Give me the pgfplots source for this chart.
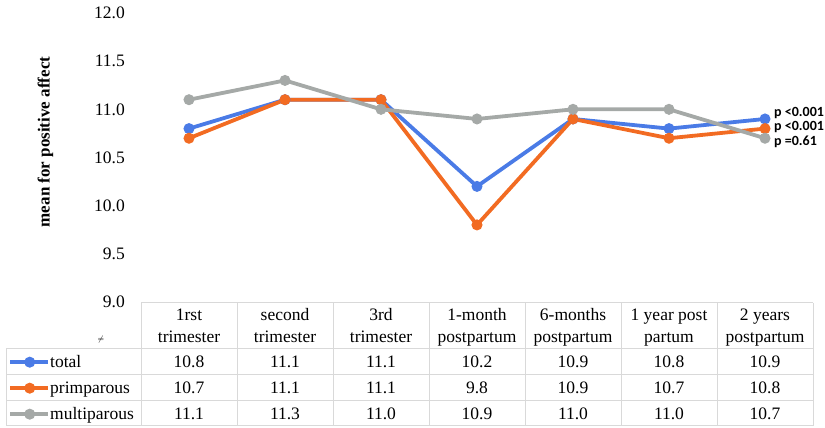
\documentclass[border=0pt]{standalone}
\usepackage{pgfplots}
\pgfplotsset{compat=1.18}
\usepackage{fontspec}
\setmainfont{Liberation Serif}
\newfontfamily\pfont{Carlito}
\definecolor{cblue}{HTML}{4A7BE6}
\definecolor{corange}{HTML}{F26B22}
\definecolor{cgray}{HTML}{A5A9A7}
\definecolor{tgrid}{HTML}{D9D9D9}
\newcommand\tf{\fontsize{17.5}{21}\selectfont}
\begin{document}
\begin{tikzpicture}
\path[use as bounding box] (0,0) rectangle (825pt,428pt);
\begin{axis}[at={(141pt,126pt)}, anchor=south west, scale only axis,
  width=672pt, height=289pt,
  xmin=-0.5, xmax=6.5, ymin=9, ymax=12,
  xtick=\empty, ytick={9,9.5,10,10.5,11,11.5,12},
  axis line style={draw=none}, major tick style={draw=none},
  yticklabel style={font=\tf, inner sep=0pt, xshift=-16pt,
    /pgf/number format/.cd, fixed, fixed zerofill, precision=1, assume math mode=true},
  clip=false,
  every axis plot/.append style={line width=3.8pt, mark=*, mark size=5pt, mark options={solid, line width=1pt}},
  legend style={at={(axis description cs:-0.1949,-0.1626)}, anchor=north west,
    draw=none, fill=none, inner sep=0pt, column sep=2pt, row sep=0pt,
    nodes={inner sep=0pt, text height=18pt, text depth=8pt, font=\tf}},
  legend cell align=left,
  legend image code/.code={\path[draw=none, fill=none, use as bounding box] (0pt,-4pt) rectangle (38pt,4pt);
    \draw[#1, mark=none] (0pt,0pt) -- (38pt,0pt);
    \draw[#1, only marks] plot coordinates {(19.5pt,0pt)};},
]
\addplot[color=cblue] coordinates {(0,10.8) (1,11.1) (2,11.1) (3,10.2) (4,10.9) (5,10.8) (6,10.9)};
\addlegendentry{total}
\addplot[color=corange] coordinates {(0,10.7) (1,11.1) (2,11.1) (3,9.8) (4,10.9) (5,10.7) (6,10.8)};
\addlegendentry{primparous}
\addplot[color=cgray] coordinates {(0,11.1) (1,11.3) (2,11.0) (3,10.9) (4,11.0) (5,11.0) (6,10.7)};
\addlegendentry{multiparous}
\end{axis}
% table grid
\draw[tgrid, line width=1pt] (141pt,125pt) -- (813pt,125pt);
\foreach \y in {79,53,27,2} \draw[tgrid, line width=1pt] (6pt,\y pt) -- (813pt,\y pt);
\draw[tgrid, line width=1pt] (6pt,79pt) -- (6pt,2pt);
\foreach \x in {141,237,333,429,525,621,717,813} \draw[tgrid, line width=1pt] (\x pt,125pt) -- (\x pt,2pt);
% headers
\foreach \a/\b [count=\i from 0] in {1rst/trimester, second/trimester, 3rd/trimester, 1-month/postpartum, 6-months/postpartum, 1 year post/partum, 2 years/postpartum} {
  \node[font=\tf, anchor=base, inner sep=0pt] at ({(189+96*\i)*1pt},107.5pt) {\a};
  \node[font=\tf, anchor=base, inner sep=0pt] at ({(189+96*\i)*1pt},85.5pt) {\b};
}
\foreach \v [count=\i from 0] in {10.8,11.1,11.1,10.2,10.9,10.8,10.9}
  \node[font=\tf, anchor=base, inner sep=0pt] at ({(189+96*\i)*1pt},60pt) {\v};
\foreach \v [count=\i from 0] in {10.7,11.1,11.1,9.8,10.9,10.7,10.8}
  \node[font=\tf, anchor=base, inner sep=0pt] at ({(189+96*\i)*1pt},34pt) {\v};
\foreach \v [count=\i from 0] in {11.1,11.3,11.0,10.9,11.0,11.0,10.7}
  \node[font=\tf, anchor=base, inner sep=0pt] at ({(189+96*\i)*1pt},8.5pt) {\v};
\node[font=\fontsize{8}{8}\selectfont, inner sep=0pt] at (101pt,88pt) {$\neq$};
% p-values
\node[font=\pfont\bfseries\fontsize{14}{14}\selectfont, anchor=base west, inner sep=0pt] at (774pt,311.5pt) {p <0.001};
\node[font=\pfont\bfseries\fontsize{14}{14}\selectfont, anchor=base west, inner sep=0pt] at (774pt,297.5pt) {p <0.001};
\node[font=\pfont\bfseries\fontsize{14}{14}\selectfont, anchor=base west, inner sep=0pt] at (774pt,282.5pt) {p =0.61};
% y label
\node[font=\bfseries\fontsize{17}{17}\selectfont, rotate=90, anchor=base, inner sep=0pt] at (49.5pt,286pt) {mean for positive affect};
\end{tikzpicture}
\end{document}
